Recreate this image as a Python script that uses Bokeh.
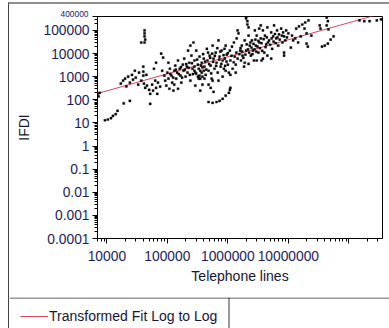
from bokeh.plotting import figure
from bokeh.models import (FixedTicker, CustomJSTickFormatter, Span, Range1d,
                          Legend, LegendItem)
from bokeh.layouts import column
from bokeh.embed import file_html
from bokeh.resources import INLINE

# ---------------- data ----------------
tel_a = [7000, 7300, 7600]
ifdi_a = [180, 140, 200]

tel_b = [9300, 10400, 11700, 12600, 14000, 15000, 19000, 24000, 52000]
ifdi_b = [13, 14, 16, 20, 24, 33, 70, 90, 67]

tel_c = [17000, 18500, 20000, 21000, 22500, 24000, 26000, 27000, 29000, 30000, 33000,
         34000, 37000, 40000, 40000, 40000, 41000, 43000, 45000, 46000, 50000, 52000,
         56000, 58000, 63000, 65000, 68000, 70000, 76000, 60000, 65000, 79000, 85000]
ifdi_c = [500, 670, 820, 380, 1000, 550, 1200, 740, 1800, 900, 450,
          1500, 670, 2700, 1650, 1100, 500, 330, 1200, 410, 270, 180,
          450, 250, 670, 330, 180, 550, 370, 2200, 4000, 10000, 6700]

tel_j = [42000, 42000, 42000, 43000, 42000, 37000]
ifdi_j = [100000, 75000, 55000, 40000, 30000, 30000]

tel_d = [82000, 89000, 92000, 96000, 100000, 104000, 108000, 110000, 117000, 120000,
         126000, 130000, 135000, 140000, 145000, 150000, 160000, 165000, 170000, 180000,
         185000, 190000, 200000, 210000, 215000, 220000, 230000, 240000, 240000, 130000,
         150000, 104000]
ifdi_d = [1800, 1100, 670, 410, 1500, 820, 300, 2200, 1100, 550,
          250, 1800, 3000, 820, 1500, 5000, 2200, 1100, 550, 3300,
          1800, 6000, 1000, 2700, 1500, 13500, 4000, 670, 22000, 450,
          300, 4000]

tel_e = [250000, 260000, 270000, 280000, 290000, 300000, 320000, 330000, 340000, 350000,
         370000, 380000, 400000, 410000, 430000, 290000, 350000,
         280000, 300000, 330000, 340000, 370000, 380000, 400000, 410000, 320000, 350000,
         280000, 380000,
         450000, 460000, 480000, 500000, 520000, 540000, 560000, 580000, 600000, 630000,
         650000, 680000, 700000, 730000, 760000,
         480000, 520000, 580000, 560000]
ifdi_e = [8200, 2200, 30000, 5000, 1500, 13500, 3300, 820, 7400, 1800,
          4000, 450, 6000, 2700, 1200, 410, 250,
          1800, 1350, 2200, 1100, 1500, 1000, 1800, 820, 1000, 820,
          2700, 2500,
          16000, 5000, 1800, 8200, 3000, 820, 22000, 6000, 2200, 11000,
          4000, 1500, 37000, 7400, 2700,
          450, 330, 220, 670]

tel_arc = [480000, 560000, 650000, 730000, 820000, 920000, 1040000, 1080000, 1100000]
ifdi_arc = [80, 73, 80, 90, 110, 150, 200, 270, 330]

tel_f = [790000, 820000, 860000, 890000, 920000, 960000, 1000000, 1040000, 1080000,
         1100000, 1170000, 1200000, 1260000, 1300000, 1350000, 1400000, 1450000, 1500000,
         1600000, 1650000, 1700000, 1750000, 1850000, 1900000, 2000000,
         920000, 1100000, 1350000, 820000, 700000,
         1900000, 2200000, 3000000, 3600000]
ifdi_f = [13500, 5000, 2200, 6000, 22000, 9000, 3300, 1500, 13500,
          5000, 20000, 2200, 30000, 7400, 3300, 45000, 100000, 75000,
          13500, 5000, 22000, 8200, 2700, 37000, 13500,
          1800, 1200, 1500, 1000, 670,
          4000, 3600, 5000, 5000]

tel_s = [2000000, 2000000, 2100000, 2100000, 2200000]
ifdi_s = [380000, 330000, 250000, 180000, 135000]

tel_g = [2200000, 2300000, 2400000, 2500000, 2600000, 2800000, 2900000, 3000000, 3300000,
         3300000, 3500000, 3500000, 3800000, 4000000, 4100000, 4300000, 4500000, 4800000,
         5200000, 5400000, 5600000, 5800000, 6300000, 6500000, 6800000, 7000000, 7600000,
         2700000, 3800000, 4500000, 5200000, 3200000]
ifdi_g = [60000, 22000, 8200, 37000, 13500, 100000, 22000, 60000, 120000,
          30000, 165000, 45000, 100000, 11000, 60000, 25000, 135000, 37000,
          82000, 16000, 55000, 165000, 45000, 100000, 22000, 67000, 120000,
          5000, 6000, 8200, 6000, 11000]

tel_h = [8200000, 8500000, 8900000, 9200000, 10000000, 8500000, 8500000, 11000000,
         12000000, 13500000, 15000000, 17000000, 19000000, 21500000, 18500000, 20000000,
         20000000, 21000000, 24000000, 33000000, 34000000, 43000000, 45000000, 43000000,
         46000000, 36000000, 40000000, 45000000, 50000000, 56000000, 13000000, 14500000,
         16000000]
ifdi_h = [82000, 55000, 37000, 100000, 75000, 11000, 8200, 18000,
          37000, 120000, 150000, 180000, 220000, 270000, 120000, 75000,
          27000, 20000, 60000, 165000, 120000, 360000, 250000, 165000,
          110000, 20000, 22000, 27000, 40000, 55000, 45000, 30000,
          55000]

tel_r = [150000000, 180000000, 220000000, 290000000, 340000000]
ifdi_r = [270000, 250000, 250000, 270000, 300000]

tel_k = [950000, 1150000, 1250000, 1380000, 1450000, 1550000, 1620000, 1720000, 1800000,
         1950000, 2050000, 2150000, 2250000, 2350000, 2450000, 2550000, 2650000, 2750000,
         2850000, 2950000, 3100000, 3200000, 3400000, 3600000, 3700000, 3900000, 4200000,
         4400000, 4600000, 5000000, 5300000, 5700000, 6000000, 6200000, 6600000, 7200000,
         7800000, 8000000, 9500000, 11500000,
         112000, 125000, 138000, 155000, 168000, 175000, 195000, 205000, 225000, 235000,
         255000, 265000, 310000, 360000, 390000, 420000, 440000, 470000, 490000, 510000,
         530000, 550000, 570000, 610000, 640000, 670000, 720000, 750000, 780000, 850000,
         880000, 900000, 1000000]
ifdi_k = [4500, 8000, 4200, 11000, 6000, 9500, 17000, 12000, 6500,
          9000, 25000, 15000, 11000, 30000, 18000, 9500, 26000, 15000,
          40000, 12000, 20000, 35000, 17000, 28000, 13000, 42000, 19000,
          50000, 30000, 24000, 45000, 33000, 70000, 28000, 50000, 40000,
          60000, 30000, 50000, 60000,
          1300, 900, 2000, 1300, 2600, 900, 2000, 3500, 2400, 1200,
          3800, 1300, 5500, 3000, 9500, 4500, 2000, 11000, 3500, 6500,
          1400, 10000, 4400, 8000, 2900, 17000, 5500, 12000, 3600, 8500,
          16000, 2900, 10500]

telephone_lines = (tel_a + tel_b + tel_c + tel_j + tel_d + tel_e + tel_arc + tel_f +
                   tel_s + tel_g + tel_h + tel_r + tel_k)
ifdi = (ifdi_a + ifdi_b + ifdi_c + ifdi_j + ifdi_d + ifdi_e + ifdi_arc + ifdi_f +
        ifdi_s + ifdi_g + ifdi_h + ifdi_r + ifdi_k)

# Log-to-log fit: log10(IFDI) = fit_intercept + fit_slope * log10(Telephone lines)
fit_intercept = -0.562
fit_slope = 0.737

x_min, x_max = 7000, 3.6e8
y_min, y_max = 1e-4, 4e5

y_tick_values = [1e-4, 1e-3, 1e-2, 1e-1, 1, 10, 100, 1000, 10000, 100000, 400000]
y_tick_labels = ["0.0001", "0.001", "0.01", "0.1", "1", "10", "100", "1000",
                 "10000", "100000", ""]
y_top_label = "400000"
x_tick_values = [1e4, 1e5, 1e6, 1e7, 1e8]
x_tick_labels = ["10000", "100000", "1000000", "10000000", ""]

legend_label = "Transformed Fit Log to Log"
x_title = "Telephone lines"
y_title = "IFDI"

# ---------------- styling ----------------
FONT = "Liberation Sans"
TICK_COLOR = "#1c1c58"
TEXT_COLOR = "#151535"
FIT_COLOR = "#d9475a"

p = figure(width=380, height=293, x_axis_type="log", y_axis_type="log",
           x_range=Range1d(x_min, x_max), y_range=Range1d(y_min, y_max),
           toolbar_location=None, output_backend="svg",
           min_border_left=88, min_border_right=7, min_border_top=12, min_border_bottom=59)
p.grid.visible = False
p.outline_line_color = "black"
p.outline_line_width = 1
p.background_fill_color = "white"
p.border_fill_color = "white"

# small top label "400000" placed at the top-left corner of the frame
p.title.text = y_top_label
p.title.text_font = FONT
p.title.text_font_size = "8.4px"
p.title.text_font_style = "normal"
p.title.text_color = TICK_COLOR
p.title.align = "left"
p.title.offset = -37
p.title.standoff = 0
p.title.vertical_align = "bottom"

fit_x = [x_min, x_max]
fit_y = [10 ** fit_intercept * v ** fit_slope for v in fit_x]
p.line(fit_x, fit_y, line_color=FIT_COLOR, line_width=1)
p.scatter(telephone_lines, ifdi, marker="square", size=2.2,
          fill_color="black", line_color="black", line_width=0.3)

x_minor = [m * 10 ** k for k in range(3, 9) for m in range(2, 10) if x_min <= m * 10 ** k <= x_max]
y_minor = [m * 10.0 ** k for k in range(-4, 6) for m in range(2, 10) if m * 10.0 ** k <= y_max]

fmt_code = """
for (let i = 0; i < vals.length; i++) {
  if (Math.abs(Math.log10(vals[i]) - Math.log10(tick)) < 1e-6) { return labels[i]; }
}
return "";
"""
p.xaxis.ticker = FixedTicker(ticks=x_tick_values, minor_ticks=x_minor)
p.xaxis.formatter = CustomJSTickFormatter(args=dict(vals=x_tick_values, labels=x_tick_labels), code=fmt_code)
p.yaxis.ticker = FixedTicker(ticks=y_tick_values, minor_ticks=y_minor)
p.yaxis.formatter = CustomJSTickFormatter(args=dict(vals=y_tick_values, labels=y_tick_labels), code=fmt_code)

for ax in (p.xaxis[0], p.yaxis[0]):
    ax.axis_line_color = "black"
    ax.major_tick_line_color = "black"
    ax.minor_tick_line_color = "black"
    ax.major_tick_in = 0
    ax.major_tick_out = 5
    ax.minor_tick_in = 0
    ax.minor_tick_out = 3
    ax.major_label_text_font = FONT
    ax.major_label_text_font_size = "13.8px"
    ax.major_label_text_color = TICK_COLOR
    ax.axis_label_text_font = FONT
    ax.axis_label_text_font_size = "14px"
    ax.axis_label_text_font_style = "normal"
    ax.axis_label_text_color = TEXT_COLOR

p.xaxis.axis_label = x_title
p.xaxis.major_label_standoff = 7
p.xaxis.axis_label_standoff = 4
p.yaxis.axis_label = y_title
p.yaxis.major_label_standoff = 3
p.yaxis.axis_label_standoff = 8

# ---------------- legend row ----------------
leg = figure(width=380, height=31, x_range=Range1d(0, 380), y_range=Range1d(0, 31),
             toolbar_location=None, output_backend="svg",
             x_axis_location=None, y_axis_location=None, min_border=0)
if "frame_align" in leg.properties():
    leg.frame_align = False
    p.frame_align = False
leg.grid.visible = False
leg.outline_line_color = None
leg.background_fill_color = "white"
leg.border_fill_color = "white"
leg.add_layout(Span(location=30.5, dimension="width", line_color="#333333", line_width=1))
leg.add_layout(Span(location=219.5, dimension="height", line_color="#333333", line_width=1))
# proxy renderer (fit data lies outside this strip's ranges) that only supplies the legend swatch
proxy = leg.line(fit_x, fit_y, line_color=FIT_COLOR, line_width=1)
legend = Legend(items=[LegendItem(label=legend_label, renderers=[proxy])],
                location=(11, 4), margin=0, padding=0, spacing=0,
                glyph_width=28, glyph_height=14, label_height=14, label_standoff=1,
                label_text_font=FONT, label_text_font_size="14px",
                label_text_color=TEXT_COLOR, border_line_color=None,
                background_fill_alpha=0)
leg.add_layout(legend)

layout = column(p, leg, spacing=0,
                styles={"margin-left": "8px", "margin-top": "2px",
                        "border-left": "1px solid #444444", "border-top": "2px solid #8f8f8f"})

open("out.html", "w").write(file_html(layout, INLINE))
